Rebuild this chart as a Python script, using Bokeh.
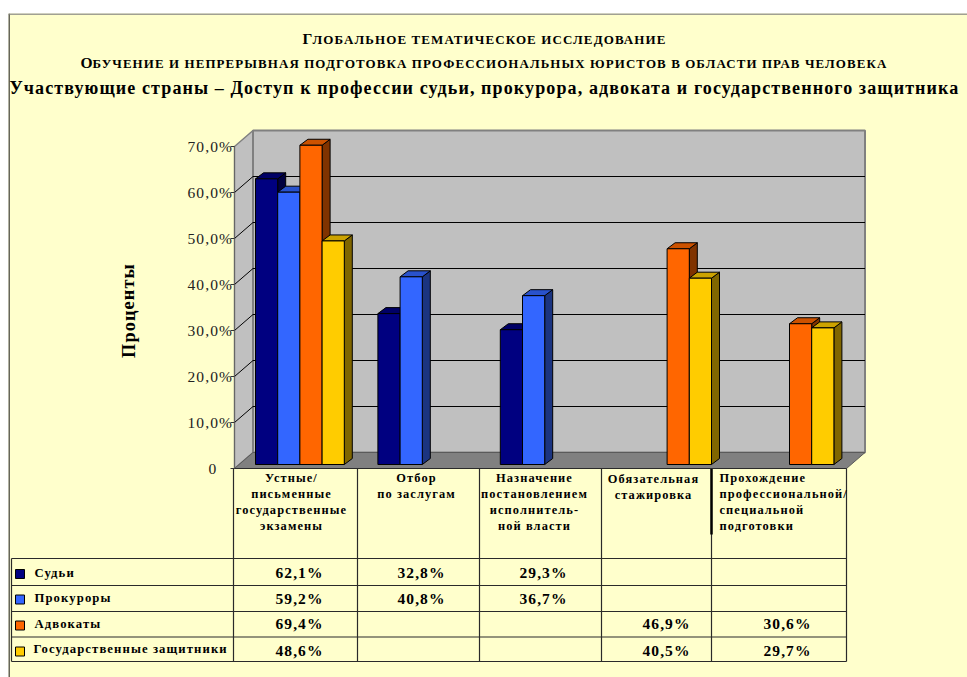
from bokeh.plotting import figure
from bokeh.embed import file_html
from bokeh.resources import INLINE
from bokeh.core.properties import value
from bokeh.models import Range1d, FixedTicker, InlineStyleSheet

# ---------- data ----------
categories = [
    ["Устные/", "письменные", "государственные", "экзамены"],
    ["Отбор", "по заслугам"],
    ["Назначение", "постановлением", "исполнитель-", "ной власти"],
    ["Обязательная", "стажировка"],
    ["Прохождение", "профессиональной/", "специальной", "подготовки"],
]
series_names = ["Судьи", "Прокуроры", "Адвокаты", "Государственные защитники"]
judges = [62.1, 32.8, 29.3, None, None]
prosecutors = [59.2, 40.8, 36.7, None, None]
lawyers = [69.4, None, None, 46.9, 30.6]
defenders = [48.6, None, None, 40.5, 29.7]
y_ticks = [0, 10, 20, 30, 40, 50, 60, 70]
y_tick_labels = ["0", "10,0%", "20,0%", "30,0%", "40,0%", "50,0%", "60,0%", "70,0%"]
titles = ["Глобальное тематическое исследование".upper(),
          "Обучение и непрерывная подготовка профессиональных юристов в области прав человека".upper(),
          "Участвующие страны – Доступ к профессии судьи, прокурора, адвоката и государственного защитника"]
y_title = "Проценты"

front_colors = ["#000080", "#3366FF", "#FF6600", "#FFCC00"]
top_colors = ["#000066", "#2952CC", "#CC5200", "#CCA300"]
side_colors = ["#000040", "#1B3480", "#803300", "#806600"]
series = [judges, prosecutors, lawyers, defenders]

# ---------- layout: page pixels to data units ----------
PX_X0, PX_CAT = 234.0, 122.4
PX_Y0, PX_PCT = 468.0, 4.6
SPACING = 1.1
def X(px): return (px - PX_X0) / PX_CAT
def Y(py): return (PX_Y0 - py) / PX_PCT

n = len(categories)
dx, dy = 18.5 / PX_CAT, 16 / PX_PCT         # wall depth
bar_w = 22.2 / PX_CAT
bar_dx, bar_dy = 8 / PX_CAT, 6 / PX_PCT     # bar depth
base = 4 / PX_PCT
first = (255 - PX_X0) / PX_CAT

p = figure(width=967, height=677, output_backend="svg", toolbar_location=None,
           x_range=Range1d(X(8), X(967)), y_range=Range1d(Y(677), Y(13)),
           min_border=0, min_border_top=13, min_border_left=8, min_border_right=0, min_border_bottom=0,
           background_fill_color="#FFFFCC", border_fill_color="#FFFFFF", outline_line_color=None,
           x_axis_location=None, tools="")
p.stylesheets = [InlineStyleSheet(css=f":host{{letter-spacing:{SPACING}px}}")]
p.grid.visible = False

top = y_ticks[-1] + dy
# walls and floor
p.patch([0, dx, dx, 0], [0, dy, top, y_ticks[-1]], fill_color="#C0C0C0", line_color="#808080", line_width=1.5)
p.patch([dx, n + dx, n + dx, dx], [dy, dy, top, top], fill_color="#C0C0C0", line_color="#808080", line_width=2)
p.patch([0, dx, n + dx, n], [0, dy, dy, 0], fill_color="#808080", line_color="#5A5A5A", line_width=1)
# gridlines
for t in y_ticks[1:-1]:
    p.line([0, dx, n + dx], [t, t + dy, t + dy], line_color="#000000", line_width=1)

# bars, left to right so that nearer faces overlap
xs, ys, fills = [], [], []
for c in range(n):
    for s, vals in enumerate(series):
        v = vals[c]
        if v is None:
            continue
        x0 = c + first + s * bar_w
        x1 = x0 + bar_w
        y0, y1 = base, base + v
        xs.append([x1, x1 + bar_dx, x1 + bar_dx, x1]); ys.append([y0, y0 + bar_dy, y1 + bar_dy, y1]); fills.append(side_colors[s])
        xs.append([x0, x1, x1 + bar_dx, x0 + bar_dx]); ys.append([y1, y1, y1 + bar_dy, y1 + bar_dy]); fills.append(top_colors[s])
        xs.append([x0, x1, x1, x0]); ys.append([y0, y0, y1, y1]); fills.append(front_colors[s])
p.patches(xs, ys, fill_color=fills, line_color="#000000", line_width=1)

# axis: the zero label sits further left in the reference, so it is placed by hand below
ax = p.yaxis[0]
ax.fixed_location = 0
ax.bounds = (y_ticks[0], y_ticks[-1])
ax.ticker = FixedTicker(ticks=y_ticks)
ax.major_label_overrides = {t: ("" if t == 0 else lab) for t, lab in zip(y_ticks, y_tick_labels)}
ax.major_label_text_font = "Liberation Serif"
ax.major_label_text_font_size = "15.5px"
ax.major_label_text_color = "#222222"
ax.axis_line_color = "#666666"
ax.major_tick_line_color = "#333333"
ax.major_tick_in = 0
ax.major_tick_out = 4
ax.minor_tick_line_color = None
ax.major_label_standoff = 3
p.text([X(208)], [y_ticks[0]], text=[y_tick_labels[0]], text_font=value("Liberation Serif"),
       text_font_size=value("15.5px"), text_align="left", text_baseline="middle", text_color="#222222")

# text helper; centred text is drawn without regard to the letter spacing, so it is shifted back
def txt(px, py, s, size, align="center", color="#000000", angle=0):
    if align == "center":
        shift = len(s) * SPACING / 2
        if angle:
            py += shift
        else:
            px -= shift
    if not angle:
        py -= 1
    p.text([X(px)], [Y(py)], text=[s], text_font=value("Liberation Serif"), text_font_style="bold",
           text_font_size=value(f"{size}px"), text_align=align, text_baseline="middle",
           text_color=color, angle=angle)

# titles (small capitals)
txt(302, 39, titles[0][0], 15.5, "left")
txt(312, 39.5, titles[0][1:], 13, "left")
txt(80, 63, titles[1][0], 15.5, "left")
txt(92, 63.5, titles[1][1:], 12.95, "left")
txt(9, 88, titles[2], 18.05, "left")
txt(128, 310, y_title, 18.3, angle=1.5708)

# table grid
col_x = [233, 357, 479, 601, 711, 846]
row_y = [558, 585, 611, 636.5, 661]
grid = "#2A2A2A"
for cx in col_x:
    p.line([X(cx), X(cx)], [Y(468), Y(661)], line_color=grid, line_width=1.2)
p.line([X(711), X(711)], [Y(468), Y(534)], line_color="#000000", line_width=2.5)
p.line([X(11), X(11)], [Y(558), Y(661)], line_color=grid, line_width=1.2)
p.line([X(233), X(846)], [Y(468), Y(468)], line_color=grid, line_width=1.2)
for ry in row_y:
    p.line([X(11), X(846)], [Y(ry), Y(ry)], line_color=grid, line_width=1.2)

# category labels
line_y = [478, 494, 510, 526]
cat_x = [291, 416, 534, 653, 719]
for c, lines in enumerate(categories):
    for i, s in enumerate(lines):
        if c == 4:
            txt(cat_x[c], line_y[i], s, 12.4, "left")
        else:
            txt(cat_x[c], line_y[i] + (1 if c == 3 else 0), s, 12.4)

# legend rows
legend_y = [573, 598, 624, 649]
swatch_y = [573.5, 599, 625, 651]
for s, name in enumerate(series_names):
    p.quad(left=[X(15)], right=[X(24)], bottom=[Y(swatch_y[s] + 4.5)], top=[Y(swatch_y[s] - 4.5)],
           fill_color=front_colors[s], line_color="#000000", line_width=1)
    txt(33 if s == 3 else 34, legend_y[s], name, 12.7, "left")

# value cells
val_x = [299, 421, 543, 666, 787]
val_y = [573, 599, 624, 650.5]
for s, vals in enumerate(series):
    for c, v in enumerate(vals):
        if v is not None:
            txt(val_x[c], val_y[s], f"{v:.1f}%".replace(".", ","), 15.5)

# page frame edges
p.line([X(8.5), X(8.5)], [Y(13), Y(677)], line_color="#333333", line_width=1.5)
p.line([X(8), X(967)], [Y(13.5), Y(13.5)], line_color="#808080", line_width=1.5)

open("out.html", "w").write(file_html(p, INLINE))
